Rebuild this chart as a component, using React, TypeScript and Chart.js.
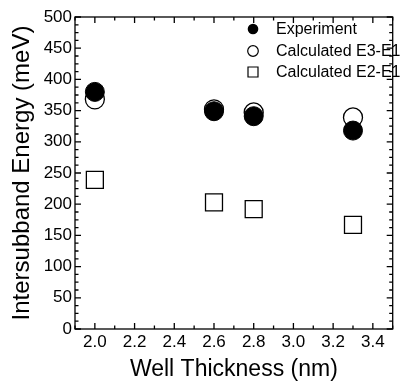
import React, { useEffect, useRef } from "react";
import { Chart, registerables } from "chart.js";

Chart.register(...registerables);

// Well thickness (nm) of each sample
const wellThickness = [2.0, 2.6, 2.8, 3.3];
// Intersubband energies (meV)
const experiment = [380, 349, 341, 318];
const calculatedE3E1 = [368, 352, 347, 339];
const calculatedE2E1 = [239, 203, 192, 167];

const seriesLabels = ["Experiment", "Calculated E3-E1", "Calculated E2-E1"];

const xMajorTicks = [2.0, 2.2, 2.4, 2.6, 2.8, 3.0, 3.2, 3.4];
const xMinorTicks = [1.9, 2.1, 2.3, 2.5, 2.7, 2.9, 3.1, 3.3, 3.5];
const yMajorTicks = [0, 50, 100, 150, 200, 250, 300, 350, 400, 450, 500];
const yMinorStep = 12.5;

const FONT = "'Liberation Sans', Arial, Helvetica, sans-serif";

const toPoints = (ys: number[]) => wellThickness.map((x, i) => ({ x, y: ys[i] }));

// Frame with inward ticks on all four sides
const framePlugin = {
  id: "frameTicks",
  beforeDatasetsDraw(chart: any) {
    const { ctx, chartArea: a, scales } = chart;
    const xs = scales.x;
    const ys = scales.y;
    ctx.save();
    ctx.strokeStyle = "#000";
    ctx.lineWidth = 1.3;
    ctx.strokeRect(a.left, a.top, a.right - a.left, a.bottom - a.top);
    ctx.beginPath();
    const major = 6;
    const minor = 3.5;
    const xTick = (v: number, len: number) => {
      const px = xs.getPixelForValue(v);
      ctx.moveTo(px, a.bottom);
      ctx.lineTo(px, a.bottom - len);
      ctx.moveTo(px, a.top);
      ctx.lineTo(px, a.top + len);
    };
    const yTick = (v: number, len: number) => {
      const py = ys.getPixelForValue(v);
      ctx.moveTo(a.left, py);
      ctx.lineTo(a.left + len, py);
      ctx.moveTo(a.right, py);
      ctx.lineTo(a.right - len, py);
    };
    xMajorTicks.forEach((v) => xTick(v, major));
    xMinorTicks.forEach((v) => xTick(v, minor));
    yMajorTicks.forEach((v) => yTick(v, major));
    for (let v = 0; v < 500; v += yMinorStep) {
      if (v % 50 !== 0) yTick(v, minor);
    }
    ctx.stroke();
    ctx.restore();
  },
};

// Legend in the upper right corner of the plot
const legendPlugin = {
  id: "insideLegend",
  afterDraw(chart: any) {
    const { ctx } = chart;
    const markerX = 253;
    const textX = 276;
    const rows = [29, 51, 72];
    ctx.save();
    ctx.font = `16px ${FONT}`;
    ctx.textBaseline = "middle";
    ctx.textAlign = "left";
    ctx.lineWidth = 1.2;
    ctx.strokeStyle = "#000";
    chart.data.datasets.forEach((ds: any, i: number) => {
      const y = rows[i];
      ctx.beginPath();
      if (ds.pointStyle === "rect") {
        ctx.rect(markerX - 5, y - 5, 10, 10);
        ctx.stroke();
      } else {
        ctx.arc(markerX, y, 5.3, 0, Math.PI * 2);
        if (ds.pointBackgroundColor === "#000") {
          ctx.fillStyle = "#000";
          ctx.fill();
        } else {
          ctx.stroke();
        }
      }
      ctx.fillStyle = "#000";
      ctx.fillText(ds.label, textX, y + 1);
    });
    ctx.restore();
  },
};

export default function App() {
  const canvasRef = useRef<HTMLCanvasElement | null>(null);

  useEffect(() => {
    const canvas = canvasRef.current;
    if (!canvas) return;
    const chart = new Chart(canvas, {
      type: "scatter",
      data: {
        datasets: [
          {
            label: seriesLabels[0],
            data: toPoints(experiment),
            pointStyle: "circle",
            pointRadius: 9.5,
            pointBackgroundColor: "#000",
            pointBorderColor: "#000",
            pointBorderWidth: 1,
          },
          {
            label: seriesLabels[1],
            data: toPoints(calculatedE3E1),
            pointStyle: "circle",
            pointRadius: 9.5,
            pointBackgroundColor: "rgba(0,0,0,0)",
            pointBorderColor: "#000",
            pointBorderWidth: 1.3,
          },
          {
            label: seriesLabels[2],
            data: toPoints(calculatedE2E1),
            pointStyle: "rect",
            pointRadius: 12,
            pointBackgroundColor: "rgba(0,0,0,0)",
            pointBorderColor: "#000",
            pointBorderWidth: 1.3,
          },
        ],
      },
      options: {
        animation: false,
        responsive: false,
        maintainAspectRatio: false,
        events: [],
        layout: { padding: { top: 17, right: 1, left: 0, bottom: 0 } },
        plugins: {
          legend: { display: false },
          tooltip: { enabled: false },
        },
        scales: {
          x: {
            type: "linear",
            min: 1.9,
            max: 3.5,
            afterBuildTicks: (scale: any) => {
              scale.ticks = xMajorTicks.map((value) => ({ value }));
            },
            afterFit: (scale: any) => {
              scale.height = 54;
            },
            grid: { display: false, drawTicks: false },
            border: { display: false },
            ticks: {
              color: "#000",
              padding: 3,
              maxRotation: 0,
              autoSkip: false,
              font: { family: FONT, size: 17 },
              callback: (v: any) => Number(v).toFixed(1),
            },
            title: {
              display: true,
              text: "Well Thickness (nm)",
              color: "#000",
              font: { family: FONT, size: 23 },
              padding: { top: 0, bottom: 0 },
            },
          },
          y: {
            type: "linear",
            min: 0,
            max: 500,
            afterBuildTicks: (scale: any) => {
              scale.ticks = yMajorTicks.map((value) => ({ value }));
            },
            afterFit: (scale: any) => {
              scale.width = 75;
            },
            grid: { display: false, drawTicks: false },
            border: { display: false },
            ticks: {
              color: "#000",
              padding: 3,
              autoSkip: false,
              font: { family: FONT, size: 17 },
              callback: (v: any) => String(v),
            },
            title: {
              display: true,
              text: "Intersubband Energy (meV)",
              color: "#000",
              font: { family: FONT, size: 24 },
              padding: { top: 8, bottom: 0 },
            },
          },
        },
      },
      plugins: [framePlugin, legendPlugin],
    });
    return () => chart.destroy();
  }, []);

  return (
    <div style={{ position: "fixed", left: 0, top: 0, width: 406, height: 383, background: "#fff" }}>
      <canvas ref={canvasRef} width={406} height={383} style={{ display: "block" }} />
    </div>
  );
}
